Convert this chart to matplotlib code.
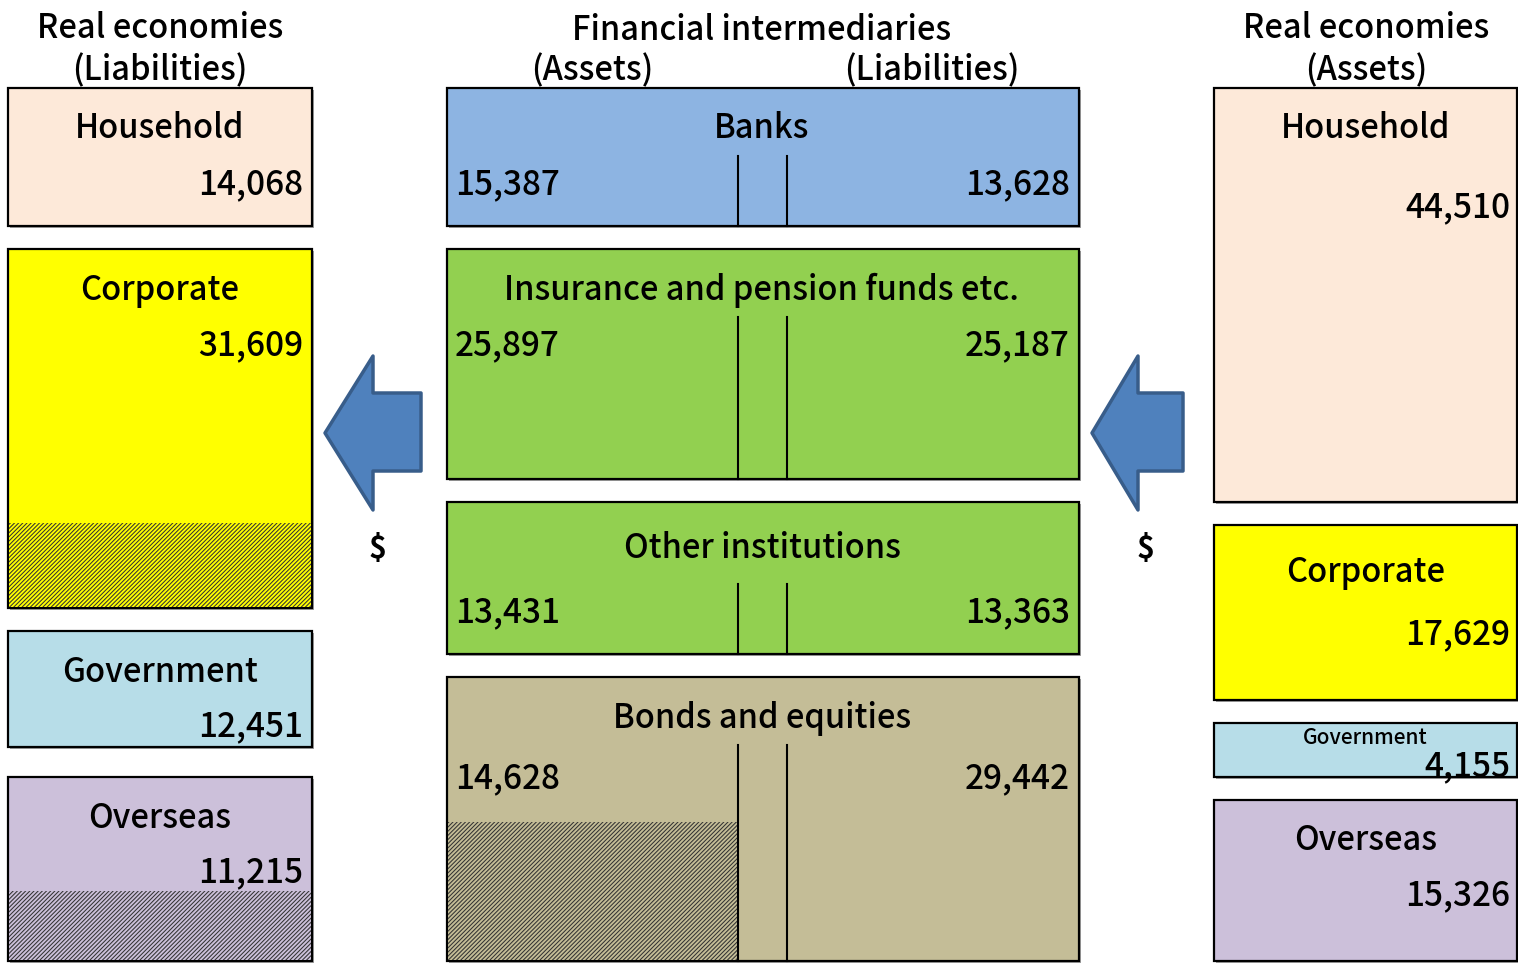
import matplotlib
matplotlib.use("Agg")
import matplotlib.pyplot as plt
from matplotlib.patches import Rectangle, Polygon

plt.rcParams['font.family'] = ['Noto Sans CJK JP', 'DejaVu Sans']
plt.rcParams['hatch.linewidth'] = 0.75

# ---- data ----
left_labels = ["Household", "Corporate", "Government", "Overseas"]
left_values = [14068, 31609, 12451, 11215]
mid_labels = ["Banks", "Insurance and pension funds etc.", "Other institutions", "Bonds and equities"]
mid_assets = [15387, 25897, 13431, 14628]
mid_liabs = [13628, 25187, 13363, 29442]
right_labels = ["Household", "Corporate", "Government", "Overseas"]
right_values = [44510, 17629, 4155, 15326]

# ---- layout (pixel coordinates) ----
W, H = 1518, 966
left_col = (8, 312)
mid_col = (447, 1079)
right_col = (1214, 1517)
left_rows = [(88, 226), (249, 608), (631, 747), (777, 961)]
mid_rows = [(88, 226), (249, 479), (502, 654), (677, 961)]
right_rows = [(88, 502), (525, 700), (723, 777), (800, 961)]
left_colors = ["#FDE9D9", "#FFFF00", "#B7DDE8", "#CCC0DA"]
mid_colors = ["#8DB4E2", "#92D050", "#92D050", "#C4BD97"]
right_colors = left_colors
left_hatch_top = [None, 523, None, 891]
mid_vline_top = [156, 317, 584, 745]
mid_label_dy = [41, 41, 47, 41]
mid_value_dy = [97, 97, 111, 102]
left_value_dy = [97, 97, 96, 96]
right_label_dy = [41, 47, 15, 40]
right_value_dy = [120, 110, 44, 96]

fig = plt.figure(figsize=(W / 100, H / 100), dpi=100)
ax = fig.add_axes([0, 0, 1, 1])
ax.set_xlim(0, W)
ax.set_ylim(H, 0)
ax.axis('off')

FS = 23.5
VS = 24
WT = 'medium'


def box(x0, x1, y0, y1, color):
    ax.add_patch(Rectangle((x0 + 2, y0 + 2), x1 - x0, y1 - y0, facecolor='#A0A0A0',
                           edgecolor='none', zorder=1))
    r = Rectangle((x0, y0), x1 - x0, y1 - y0, facecolor=color, edgecolor='black',
                  linewidth=1.6, zorder=2)
    ax.add_patch(r)
    return r


def hatch(x0, x1, y0, y1, color):
    ax.add_patch(Rectangle((x0, y0), x1 - x0, y1 - y0, facecolor=color, edgecolor='#333333',
                           hatch='////////', linewidth=0, zorder=3))


def txt(x, y, s, ha='center', size=FS, **kw):
    return ax.text(x, y, s, ha=ha, va='center', fontsize=size, fontweight=WT, zorder=5, **kw)


# headers
txt(160, 29, "Real economies")
txt(160, 71, "(Liabilities)")
txt(762, 30, "Financial intermediaries")
txt(592, 71, "(Assets)")
txt(932, 71, "(Liabilities)")
txt(1366, 29, "Real economies")
txt(1366, 71, "(Assets)")

# left column
for i, (lab, val) in enumerate(zip(left_labels, left_values)):
    y0, y1 = left_rows[i]
    box(left_col[0], left_col[1], y0, y1, left_colors[i])
    if left_hatch_top[i] is not None:
        hatch(left_col[0] + 1, left_col[1] - 1, left_hatch_top[i], y1 - 1, left_colors[i])
    txt((left_col[0] + left_col[1]) / 2, y0 + 41, lab)
    txt(left_col[1] - 9, y0 + left_value_dy[i], f"{val:,}", ha='right', size=VS)

# middle column
for i, lab in enumerate(mid_labels):
    y0, y1 = mid_rows[i]
    box(mid_col[0], mid_col[1], y0, y1, mid_colors[i])
    if i == 3:
        hatch(mid_col[0] + 1, 738, 822, y1 - 1, mid_colors[i])
    for xv in (738, 787):
        ax.plot([xv, xv], [mid_vline_top[i], y1], color='black', lw=1.5, zorder=4)
    txt(762, y0 + mid_label_dy[i], lab)
    txt(mid_col[0] + 8, y0 + mid_value_dy[i], f"{mid_assets[i]:,}", ha='left', size=VS)
    txt(mid_col[1] - 9, y0 + mid_value_dy[i], f"{mid_liabs[i]:,}", ha='right', size=VS)

# right column
for i, (lab, val) in enumerate(zip(right_labels, right_values)):
    y0, y1 = right_rows[i]
    r = box(right_col[0], right_col[1], y0, y1, right_colors[i])
    small = (i == 2)
    txt((right_col[0] + right_col[1]) / 2, y0 + right_label_dy[i], lab,
        size=15 if small else FS)
    t = txt(right_col[1] - 7, y0 + right_value_dy[i], f"{val:,}", ha='right', size=VS)
    if small:
        t.set_clip_path(r)


# arrows
def arrow(tip_x, head_x, tail_x, cy):
    pts = [(tip_x, cy), (head_x, cy - 77), (head_x, cy - 40), (tail_x, cy - 40),
           (tail_x, cy + 38), (head_x, cy + 38), (head_x, cy + 77)]
    ax.add_patch(Polygon(pts, closed=True, facecolor='#4F81BD', edgecolor='#385D8A',
                         linewidth=2.5, joinstyle='round', zorder=3))


arrow(325, 373, 421, 433)
arrow(1092, 1138, 1183, 433)
ax.text(378, 549, "$", ha='center', va='center', fontsize=22, fontweight='bold')
ax.text(1146, 549, "$", ha='center', va='center', fontsize=22, fontweight='bold')

fig.savefig("out.png", dpi=100)
